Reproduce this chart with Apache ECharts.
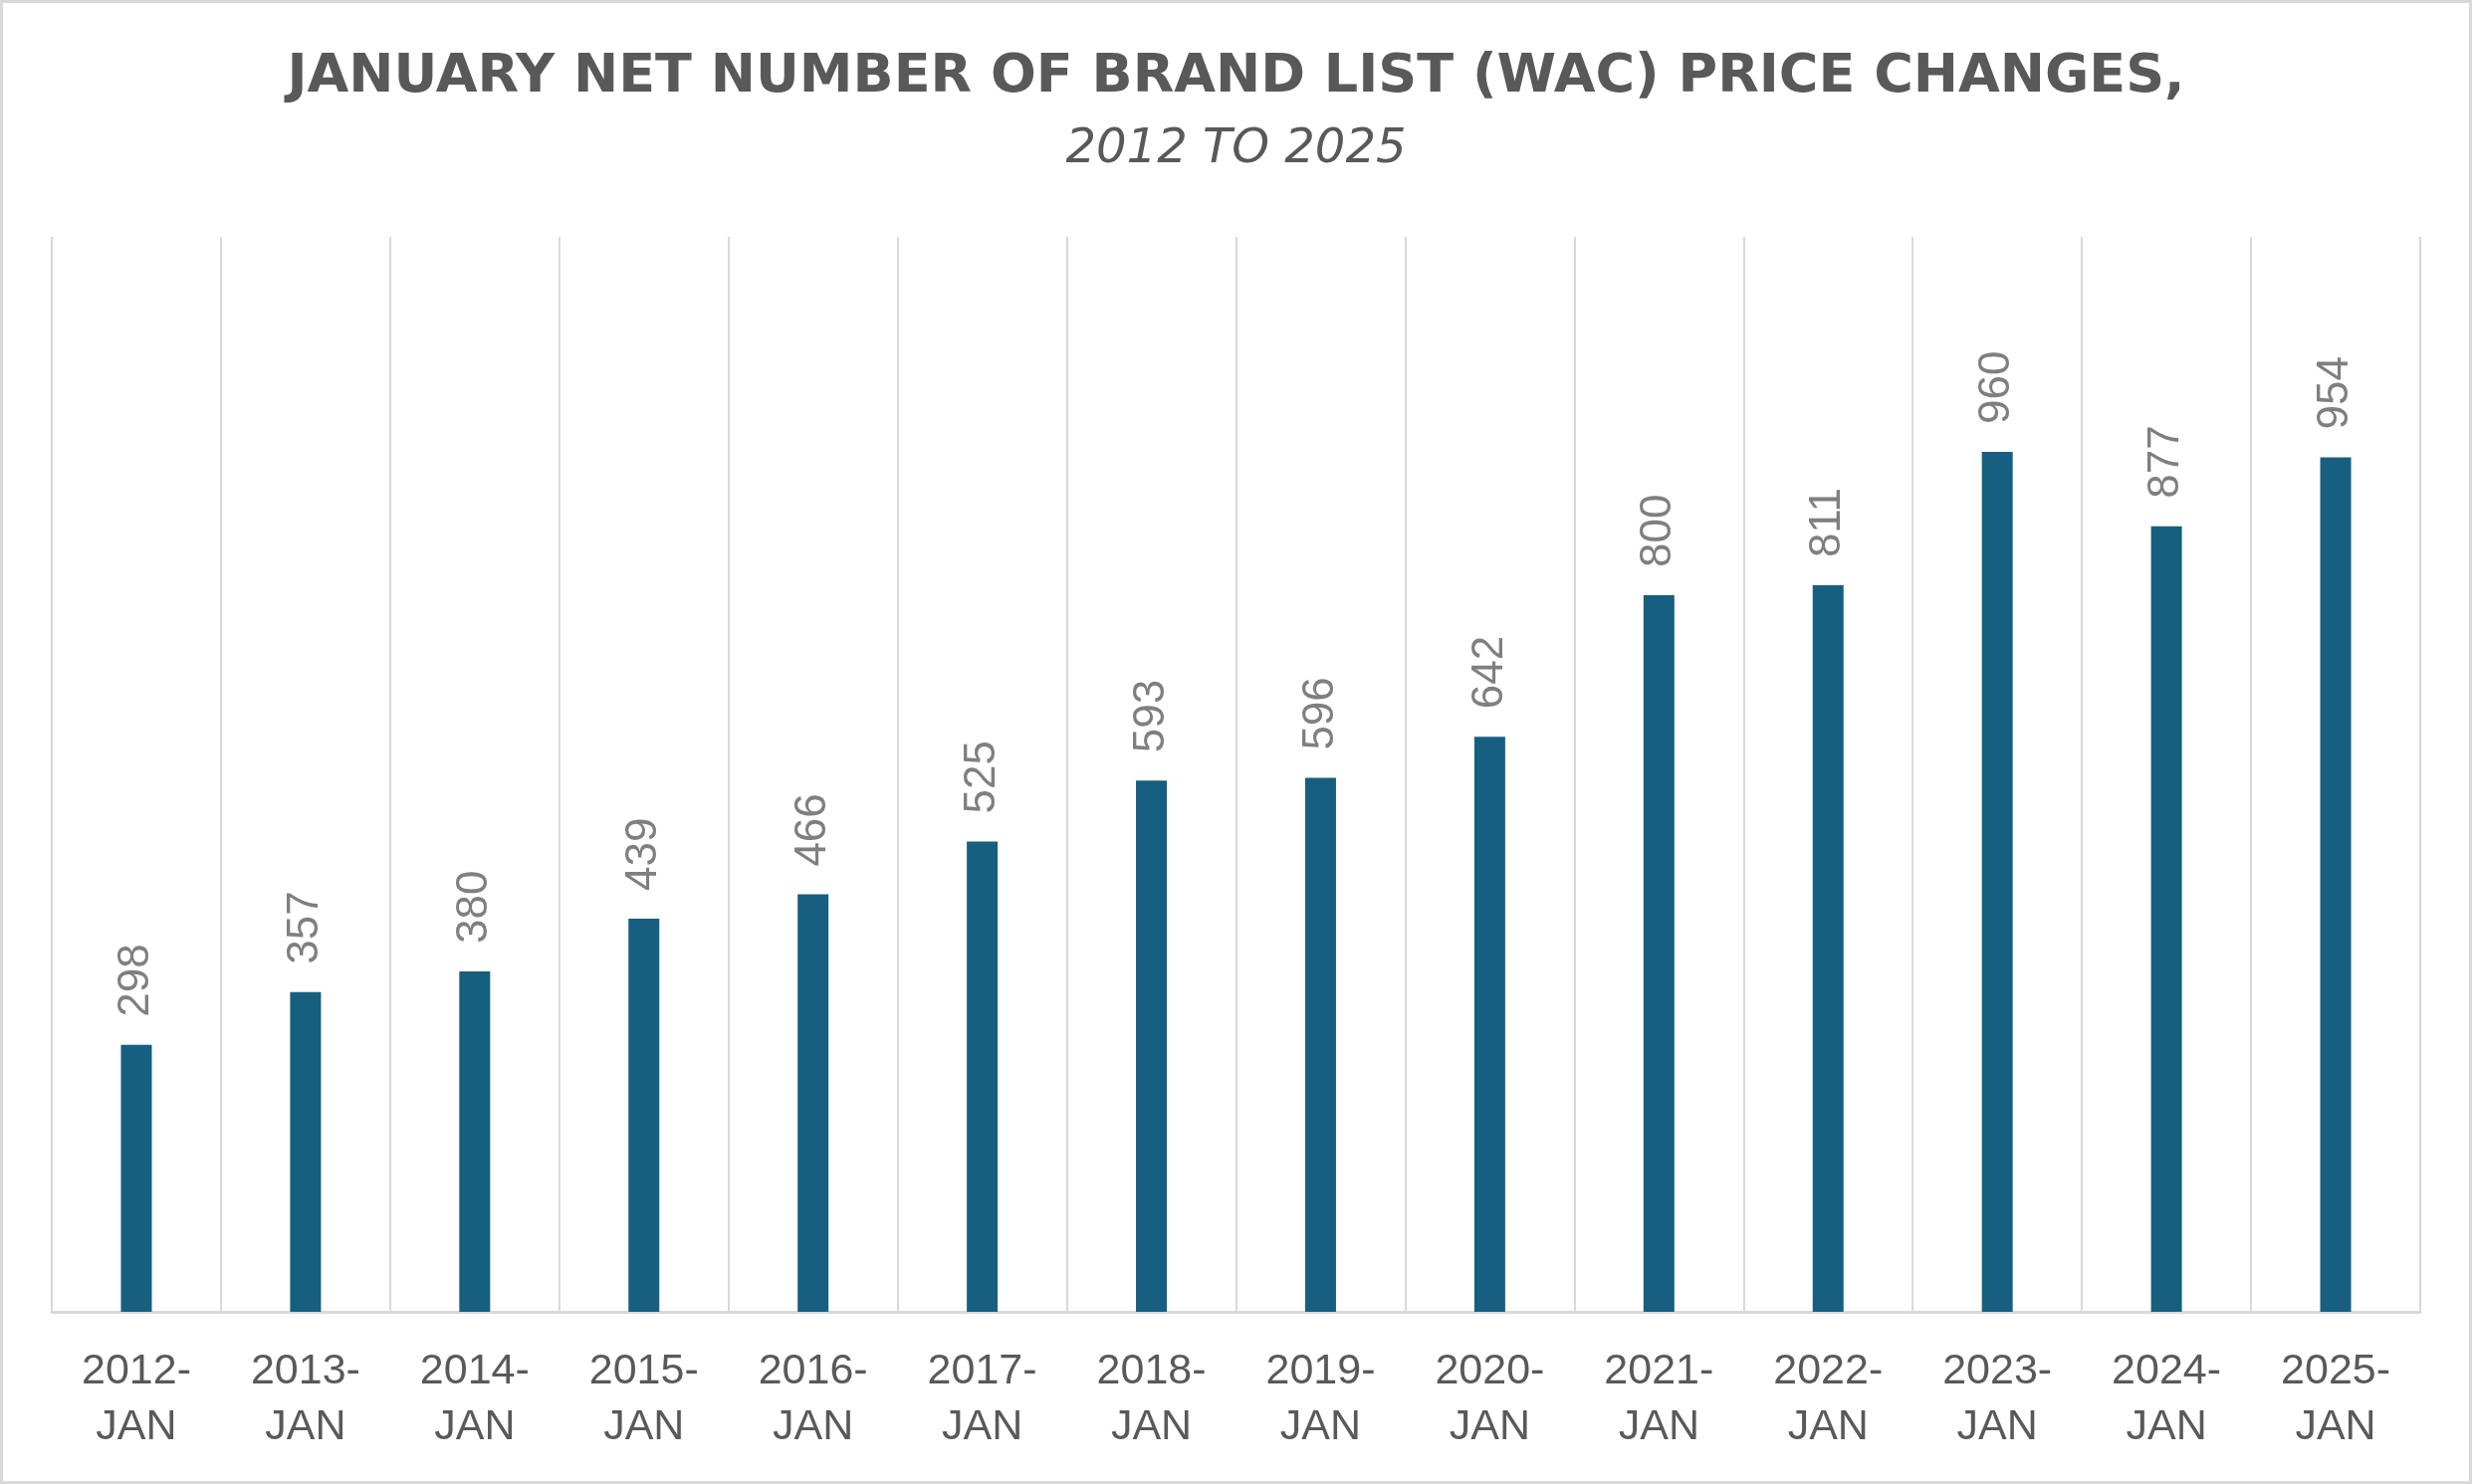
<!DOCTYPE html>
<html>
<head>
<meta charset="utf-8">
<script src="https://cdn.jsdelivr.net/npm/echarts@6/dist/echarts.min.js"></script>
<style>
html,body{margin:0;padding:0;background:#fff;}
#chart{width:2483px;height:1491px;}
</style>
</head>
<body>
<div id="chart"></div>
<script>
const titleText = 'JANUARY NET NUMBER OF BRAND LIST (WAC) PRICE CHANGES,';
const subtitleText = '2012 TO 2025';
const categories = ['2012-\nJAN','2013-\nJAN','2014-\nJAN','2015-\nJAN','2016-\nJAN','2017-\nJAN','2018-\nJAN','2019-\nJAN','2020-\nJAN','2021-\nJAN','2022-\nJAN','2023-\nJAN','2024-\nJAN','2025-\nJAN'];
const values = [298,357,380,439,466,525,593,596,642,800,811,960,877,954];

const chart = echarts.init(document.getElementById('chart'));
chart.setOption({
  backgroundColor: '#ffffff',
  animation: false,
  title: [
    {
      text: titleText, left: 'center', top: 46,
      textStyle: {fontFamily: 'DejaVu Sans', fontWeight: 'bold', fontSize: 54, color: '#595959'}
    },
    {
      text: subtitleText, left: 'center', top: 122,
      textStyle: {fontFamily: 'DejaVu Sans', fontStyle: 'italic', fontWeight: 'normal', fontSize: 48, color: '#595959'}
    }
  ],
  graphic: [{
    type: 'rect', shape: {x: 1.5, y: 1.5, width: 2480, height: 1488},
    style: {fill: 'none', stroke: '#d9d9d9', lineWidth: 3}, silent: true
  }],
  grid: {left: 52, right: 52, top: 238, bottom: 173, containLabel: false},
  xAxis: {
    type: 'category', data: categories, boundaryGap: true,
    axisLine: {show: true, lineStyle: {color: '#d9d9d9', width: 3}},
    axisTick: {show: false},
    splitLine: {show: true, lineStyle: {color: '#d9d9d9', width: 2}},
    axisLabel: {
      interval: 0, margin: 32, color: '#595959', fontFamily: 'Liberation Sans',
      fontSize: 43, lineHeight: 56
    }
  },
  yAxis: {
    type: 'value', min: 0, max: 1200, interval: 200, show: false,
    splitLine: {show: false}
  },
  series: [{
    type: 'bar', data: values, barWidth: 31,
    itemStyle: {color: '#175F80'},
    label: {
      show: true, position: 'top', rotate: 90, align: 'left', verticalAlign: 'middle',
      distance: 28, color: '#7f7f7f', fontFamily: 'Liberation Sans', fontSize: 44
    }
  }]
});
</script>
</body>
</html>
